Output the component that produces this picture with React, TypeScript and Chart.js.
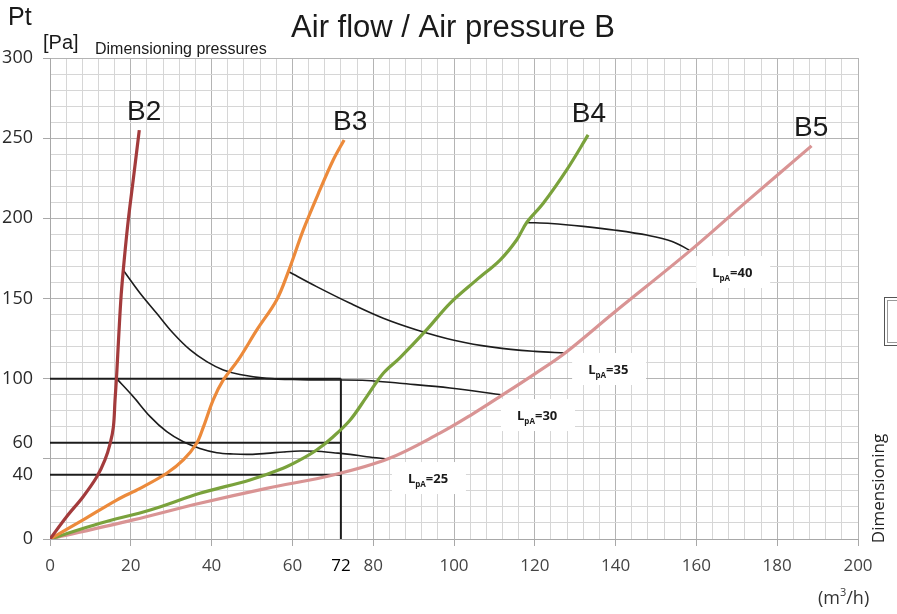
import React, { useEffect, useRef } from 'react';
import { Chart, registerables } from 'chart.js';

Chart.register(...registerables);

// ---- Data (flow m3/h, pressure Pa) ----
const b2Flow = [0, 4.1, 8.2, 11.6, 13.6, 14.9, 15.7, 16.1, 16.5, 17.03, 17.62, 18.37, 19.38, 20.6, 22.1];
const b2Pressure = [0, 13.9, 26.4, 38.8, 49.3, 59.7, 70.1, 86.8, 102.3, 127.3, 152.2, 174, 199, 224, 255];

const b3Flow = [0, 8.2, 16.5, 22.3, 28.9, 33, 36.3, 38, 40.4, 42.9, 46.6, 51.2, 56.1, 59, 62.7, 66.8, 70.1, 72.8];
const b3Pressure = [0, 11.9, 24.3, 31.6, 41, 49.3, 59.7, 70.1, 86.8, 99.2, 111.7, 130.4, 149.1, 166.8, 192.8, 217.7, 236.4, 248.9];

const b4Flow = [0, 12.4, 24.8, 37.1, 49.5, 57.7, 61.9, 66, 70.1, 74.3, 78.4, 82.5, 86.6, 93.2, 99, 105.6, 111.4, 115.5, 118, 122.1, 127.9, 133.2];
const b4Pressure = [0, 9.8, 18.1, 28.5, 36.8, 44.1, 49.3, 55.5, 63.8, 74.2, 88.8, 103.4, 113, 130.4, 147, 161.6, 174, 186.5, 197.4, 209.4, 230.2, 252];

const b5Flow = [0, 20.6, 37.1, 53.6, 70.1, 83.7, 96.5, 104, 112.1, 120, 127.5, 139.4, 158.4, 172.4, 188.5];
const b5Pressure = [0, 11.9, 22.3, 31.6, 39.9, 50, 66, 77, 90, 103, 116, 140.8, 179.7, 210.4, 245.2];

const lpa25Flow = [16.5, 20.6, 24.8, 28.9, 33, 37.1, 41.3, 45.4, 49.5, 53.6, 57.8, 61.9, 66, 70.1, 74.3, 78.4, 83.7];
const lpa25Pressure = [100, 88.8, 76.3, 66.9, 60.6, 56.5, 53.8, 53, 52.8, 53.4, 54.3, 54.9, 54.7, 53.8, 52.8, 51.3, 49.9];

const lpa30Flow = [18.1, 22.3, 26.4, 30.5, 34.7, 38.8, 42.9, 47, 53.6, 61.9, 70.1, 78.4, 86.6, 99, 112.1];
const lpa30Pressure = [167.8, 153.3, 140.8, 128.3, 117.9, 110.6, 105.4, 102.6, 100.2, 99.4, 99.2, 98.9, 97.1, 94.2, 89.8];

const lpa35Flow = [59, 66, 74.3, 82.5, 90.8, 100, 110, 120, 127.5];
const lpa35Pressure = [166.8, 157.4, 147, 137.7, 130.4, 124, 119.5, 117, 116];

const lpa40Flow = [118, 124, 132, 140, 148, 154, 158.4];
const lpa40Pressure = [197.4, 196.8, 195, 192.6, 189.4, 185.6, 180];

const refFlow = 72;
const refPressures = [100, 60, 40];

const xTickLabels = [0, 20, 40, 60, 72, 80, 100, 120, 140, 160, 180, 200];
const yTickLabels = [0, 40, 60, 100, 150, 200, 250, 300];

const curveNames = ['B2', 'B3', 'B4', 'B5'];
const curveColors = ['#a33b3c', '#ec8a3b', '#7aa23c', '#d99494'];
const curveLabelX = [23.3, 74.3, 133.4, 188.4];
const curveLabelY = [261.4, 255.2, 260.1, 251.4];

const lpaValues = [25, 30, 35, 40];
const lpaLabelX = [88.6, 115.6, 133.2, 163.9];
const lpaLabelY = [34.9, 74.2, 102.9, 163.4];

const zip = (xs: number[], ys: number[]) => xs.map((x, i) => ({ x, y: ys[i] }));

const annotationPlugin = {
  id: 'annotations',
  beforeDatasetsDraw(chart: any) {
    const { ctx, scales } = chart;
    const xs = scales.x;
    const ys = scales.y;
    ctx.save();
    ctx.fillStyle = '#ffffff';
    lpaValues.forEach((_, i) => {
      const px = xs.getPixelForValue(lpaLabelX[i]);
      const py = ys.getPixelForValue(lpaLabelY[i]);
      ctx.fillRect(px - 16, py - 21, 74, 32);
    });
    ctx.restore();
  },
  afterDraw(chart: any) {
    const { ctx, scales } = chart;
    const xs = scales.x;
    const ys = scales.y;
    ctx.save();
    ctx.fillStyle = '#1a1a1a';
    ctx.textBaseline = 'alphabetic';

    // Title
    ctx.textAlign = 'center';
    ctx.font = '31px "Liberation Sans", Arial, sans-serif';
    ctx.fillText('Air flow / Air pressure B', 453, 37);

    ctx.textAlign = 'left';
    ctx.font = '25px "Liberation Sans", Arial, sans-serif';
    ctx.fillText('Pt', 8, 25);
    ctx.font = '20px "Liberation Sans", Arial, sans-serif';
    ctx.fillText('[Pa]', 43, 49);
    ctx.font = '16px "Liberation Sans", Arial, sans-serif';
    ctx.fillText('Dimensioning pressures', 95, 54);

    // Unit of x axis
    ctx.font = '18px "Open Sans", sans-serif';
    ctx.fillStyle = '#333';
    const base = '(m';
    ctx.fillText(base, 818, 604);
    const w1 = ctx.measureText(base).width;
    ctx.font = '11px "Open Sans", sans-serif';
    ctx.fillText('3', 818 + w1, 596);
    const w2 = ctx.measureText('3').width;
    ctx.font = '18px "Open Sans", sans-serif';
    ctx.fillText('/h)', 818 + w1 + w2, 604);

    // Vertical "Dimensioning"
    ctx.save();
    ctx.translate(884, 488.5);
    ctx.rotate(-Math.PI / 2);
    ctx.textAlign = 'center';
    ctx.font = '17px "Open Sans", sans-serif';
    ctx.fillStyle = '#222';
    ctx.fillText('Dimensioning', 0, 0);
    ctx.restore();

    // Small clipped icon at right
    ctx.strokeStyle = '#555';
    ctx.lineWidth = 1;
    ctx.strokeRect(884.5, 297.5, 14, 48);
    ctx.strokeStyle = '#999';
    ctx.strokeRect(887.5, 300.5, 12, 42);

    // Curve names
    ctx.textAlign = 'center';
    ctx.fillStyle = '#1a1a1a';
    ctx.font = '28px "Liberation Sans", Arial, sans-serif';
    curveNames.forEach((n, i) => {
      ctx.fillText(n, xs.getPixelForValue(curveLabelX[i]), ys.getPixelForValue(curveLabelY[i]));
    });

    // LpA labels
    ctx.textAlign = 'left';
    lpaValues.forEach((v, i) => {
      let px = xs.getPixelForValue(lpaLabelX[i]);
      const py = ys.getPixelForValue(lpaLabelY[i]);
      ctx.font = 'bold 13px "Open Sans", sans-serif';
      ctx.fillText('L', px, py);
      px += ctx.measureText('L').width;
      ctx.font = 'bold 8px "Open Sans", sans-serif';
      ctx.fillText('pA', px, py + 4);
      px += ctx.measureText('pA').width;
      ctx.font = 'bold 13px "Open Sans", sans-serif';
      ctx.fillText('=' + v, px, py);
    });
    ctx.restore();
  },
};

export default function App() {
  const ref = useRef<HTMLCanvasElement>(null);

  useEffect(() => {
    const curve = (i: number, xs: number[], ys: number[]) => ({
      label: curveNames[i],
      data: zip(xs, ys),
      borderColor: curveColors[i],
      backgroundColor: curveColors[i],
      borderWidth: 3.2,
      pointRadius: 0,
      tension: 0.35,
      order: 1,
    });
    const blackLine = (xs: number[], ys: number[], width: number, smooth: boolean) => ({
      label: '',
      data: zip(xs, ys),
      borderColor: '#1c1c1c',
      backgroundColor: '#1c1c1c',
      borderWidth: width,
      pointRadius: 0,
      tension: smooth ? 0.35 : 0,
      order: 2,
    });

    const datasets: any[] = [
      curve(0, b2Flow, b2Pressure),
      curve(1, b3Flow, b3Pressure),
      curve(2, b4Flow, b4Pressure),
      curve(3, b5Flow, b5Pressure),
      blackLine(lpa25Flow, lpa25Pressure, 1.6, true),
      blackLine(lpa30Flow, lpa30Pressure, 1.6, true),
      blackLine(lpa35Flow, lpa35Pressure, 1.6, true),
      blackLine(lpa40Flow, lpa40Pressure, 1.6, true),
      ...refPressures.map((p) => blackLine([0, refFlow], [p, p], 2, false)),
      blackLine([refFlow, refFlow], [0, refPressures[0]], 2, false),
    ];

    const chart = new Chart(ref.current as HTMLCanvasElement, {
      type: 'line',
      data: { datasets },
      plugins: [annotationPlugin],
      options: {
        responsive: false,
        animation: false,
        devicePixelRatio: 1,
        layout: { padding: { top: 58, right: 39, left: 0, bottom: 0 } },
        plugins: { legend: { display: false }, tooltip: { enabled: false }, title: { display: false } },
        scales: {
          x: {
            type: 'linear',
            min: 0,
            max: 200,
            afterFit: (s: any) => { s.height = 75; },
            border: { color: '#a8a8a8', width: 1 },
            grid: {
              color: (c: any) => (c.tick && c.tick.value % 20 === 0 ? '#b4b4b4' : '#d6d6d6'),
              tickColor: (c: any) => (c.tick && c.tick.value % 20 === 0 ? '#a8a8a8' : 'rgba(0,0,0,0)'),
              tickLength: 7,
              lineWidth: 1,
            },
            ticks: {
              stepSize: 4,
              maxTicksLimit: 1000,
              autoSkip: false,
              maxRotation: 0,
              minRotation: 0,
              padding: 10,
              font: { family: '"Open Sans", sans-serif', size: 17 },
              color: (c: any) => (c.tick && c.tick.value === 72 ? '#000000' : '#444444'),
              callback: (v: any) => (xTickLabels.includes(Number(v)) ? String(v) : ''),
            },
          },
          y: {
            type: 'linear',
            min: 0,
            max: 300,
            afterFit: (s: any) => { s.width = 50; },
            border: { color: '#a8a8a8', width: 1 },
            grid: {
              color: (c: any) => (c.tick && c.tick.value % 50 === 0 ? '#b4b4b4' : '#d6d6d6'),
              tickColor: (c: any) => (c.tick && c.tick.value % 50 === 0 ? '#a8a8a8' : 'rgba(0,0,0,0)'),
              tickLength: 7,
              lineWidth: 1,
            },
            ticks: {
              stepSize: 10,
              maxTicksLimit: 1000,
              autoSkip: false,
              padding: 10,
              font: { family: '"Open Sans", sans-serif', size: 18 },
              color: '#2a2a2a',
              callback: (v: any) => (yTickLabels.includes(Number(v)) ? String(v) : ''),
            },
          },
        },
      } as any,
    });
    return () => chart.destroy();
  }, []);

  return (
    <div style={{ position: 'absolute', left: 0, top: 0, width: 897, height: 614, background: '#ffffff' }}>
      <canvas ref={ref} width={897} height={614} style={{ display: 'block', width: 897, height: 614 }} />
    </div>
  );
}
